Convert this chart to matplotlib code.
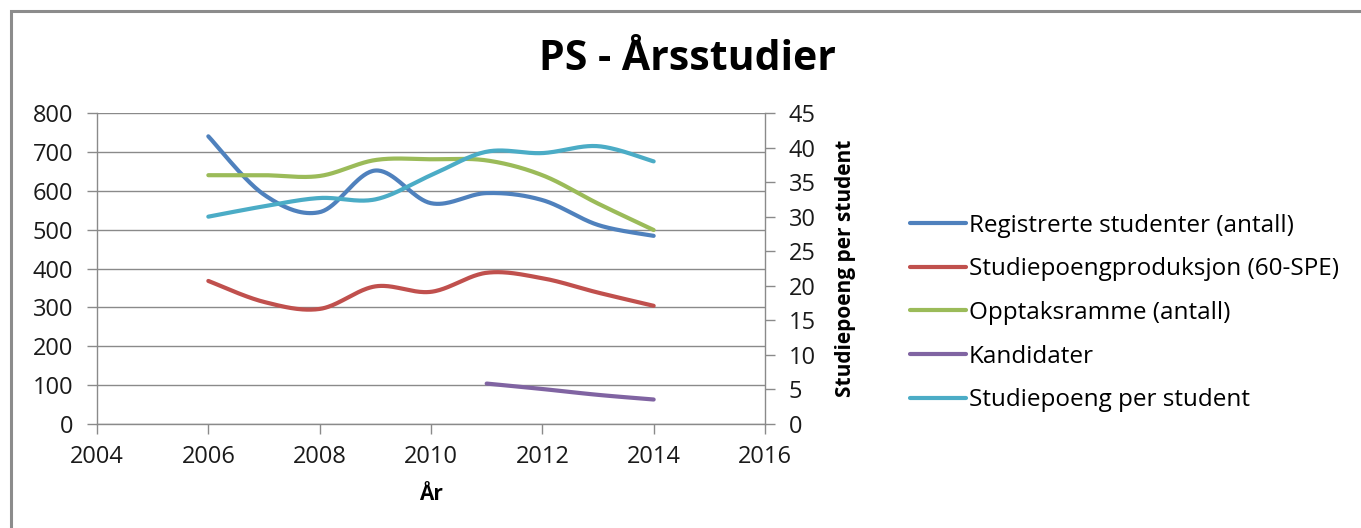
import matplotlib
matplotlib.use("Agg")

import numpy as np
import matplotlib.pyplot as plt
from matplotlib.lines import Line2D

plt.rcParams["font.family"] = ["Open Sans", "DejaVu Sans"]

# data
years = [2006, 2007, 2008, 2009, 2010, 2011, 2012, 2013, 2014]
registrerte = [740, 590, 545, 652, 568, 594, 576, 512, 484]
produksjon = [368, 314, 296, 354, 340, 389, 375, 338, 304]
opptaksramme = [640, 640, 638, 679, 681, 678, 640, 567, 499]
kand_years = [2011, 2012, 2013, 2014]
kandidater = [104, 90, 75, 63]
sp_per_student = [30.0, 31.5, 32.7, 32.5, 36.0, 39.4, 39.2, 40.2, 38.0]

labels = ["Registrerte studenter (antall)", "Studiepoengproduksjon (60-SPE)",
          "Opptaksramme (antall)", "Kandidater", "Studiepoeng per student"]
colors = ["#4F81BD", "#C0504D", "#9BBB59", "#8064A2", "#4BACC6"]


def smooth(xs, ys, n=40):
    """Excel-style smoothed line (uniform Catmull-Rom through the points)."""
    x = np.asarray(xs, dtype=float)
    y = np.asarray(ys, dtype=float)
    px = np.concatenate([[x[0]], x, [x[-1]]])
    py = np.concatenate([[y[0]], y, [y[-1]]])
    t = np.linspace(0, 1, n)
    out_x, out_y = [], []
    for i in range(1, len(px) - 2):
        for arr, out in ((px, out_x), (py, out_y)):
            p0, p1, p2, p3 = arr[i - 1], arr[i], arr[i + 1], arr[i + 2]
            c1 = p1 + (p2 - p0) / 6.0
            c2 = p2 - (p3 - p1) / 6.0
            seg = ((1 - t) ** 3 * p1 + 3 * (1 - t) ** 2 * t * c1
                   + 3 * (1 - t) * t ** 2 * c2 + t ** 3 * p2)
            out.extend(seg if i == 1 else seg[1:])
    return np.array(out_x), np.array(out_y)


W, H = 1361, 528
fig = plt.figure(figsize=(W / 100, H / 100), dpi=100)

# outer chart frame: only the top and left edges are inside the picture
fx, fy = 10.5 / W, 1 - 10.5 / H
fig.lines.append(Line2D([fx, fx, 1.0], [0.0, fy, fy], transform=fig.transFigure,
                        color="#8c8c8c", lw=2.2, solid_joinstyle="miter"))

ax = fig.add_axes([97 / W, 1 - 424 / H, (765 - 97) / W, (424 - 113) / H])
ax2 = ax.twinx()

grey = "#8a8a8a"
lw = 3.0

series = [(years, registrerte), (years, produksjon), (years, opptaksramme),
          (kand_years, kandidater)]
handles = []
for (xs, ys), lab, c in zip(series, labels[:4], colors[:4]):
    sx, sy = smooth(xs, ys)
    h, = ax.plot(sx, sy, color=c, lw=lw, label=lab, solid_capstyle="round", zorder=3)
    handles.append(h)
sx, sy = smooth(years, sp_per_student)
h, = ax2.plot(sx, sy, color=colors[4], lw=lw, label=labels[4], solid_capstyle="round")
handles.append(h)

ax.set_xlim(2004, 2016)
ax.set_ylim(0, 800)
ax2.set_ylim(0, 45)
ax.set_xticks(range(2004, 2017, 2))
ax.set_yticks(range(0, 801, 100))
ax2.set_yticks(range(0, 46, 5))

ax.grid(axis="y", color=grey, lw=1.0)
ax.set_axisbelow(True)

for a in (ax, ax2):
    for s in a.spines.values():
        s.set_color(grey)
        s.set_linewidth(1.0)
    a.spines["top"].set_visible(False)
ax.spines["right"].set_visible(False)
ax2.spines["left"].set_visible(False)
ax2.spines["bottom"].set_visible(False)

tick_kw = dict(length=7, width=1, color=grey, labelsize=17, labelcolor="#1a1a1a")
ax.tick_params(axis="x", pad=8, **tick_kw)
ax.tick_params(axis="y", pad=10, **tick_kw)
ax2.tick_params(axis="y", pad=10, **tick_kw)

ax.set_xlabel("År", fontsize=15, fontweight="bold", labelpad=11)
ax2.set_ylabel("Studiepoeng per student", fontsize=15, fontweight="bold", labelpad=14)

fig.text(687 / W, 1 - 59 / H, "PS - Årsstudier", fontsize=29.5, fontweight="bold",
         ha="center", va="center")

fig.legend(handles=handles, labels=labels, loc="center left",
           bbox_to_anchor=(900 / W, 1 - 313 / H), frameon=False, fontsize=17.5,
           handlelength=2.3, handletextpad=0.12, labelspacing=0.81,
           borderaxespad=0)

fig.savefig("out.png", dpi=100)
